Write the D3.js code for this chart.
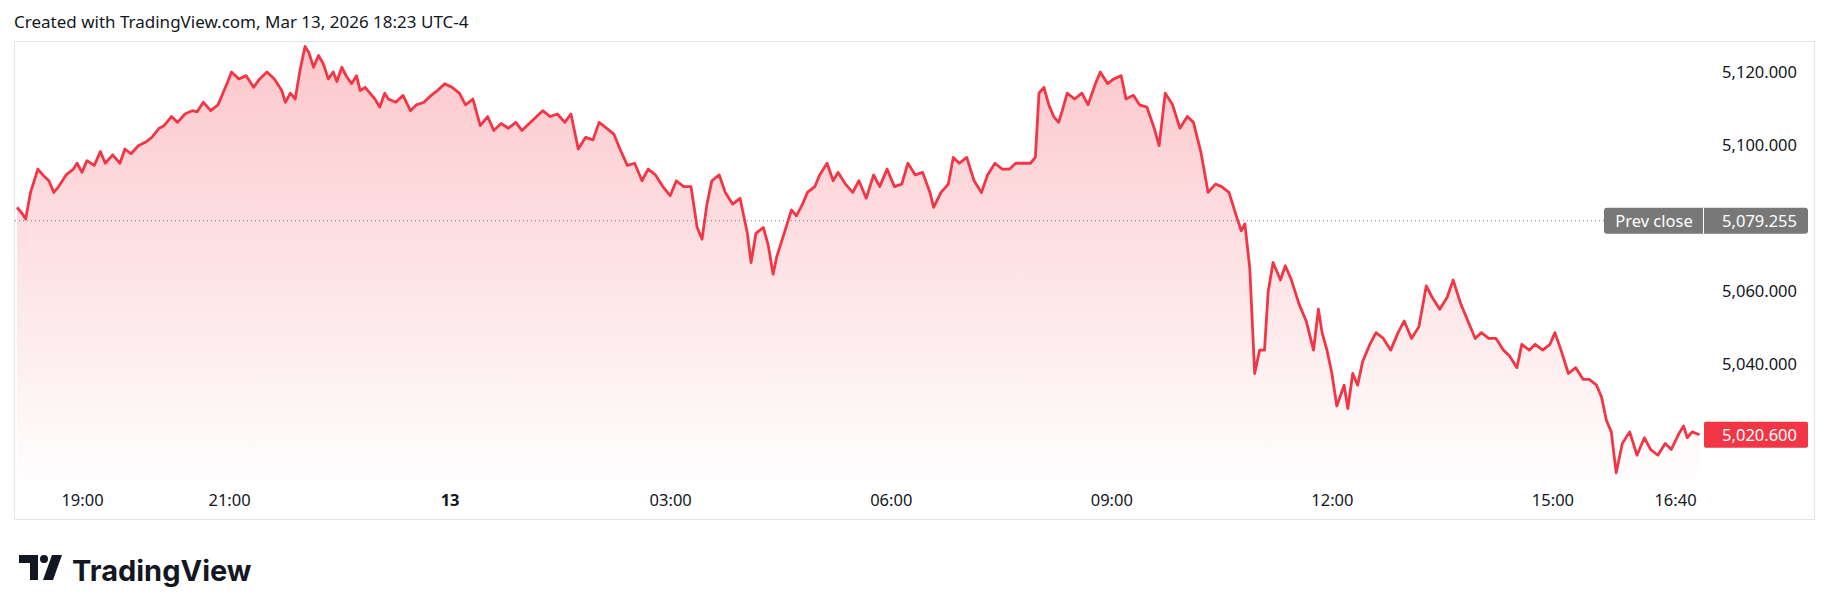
<!DOCTYPE html>
<html>
<head>
<meta charset="utf-8">
<script src="https://cdn.jsdelivr.net/npm/d3@7"></script>
<style>
  body { margin: 0; background: #fff; }
  text { font-family: "Noto Sans", "DejaVu Sans", sans-serif; }
</style>
</head>
<body>
<div id="viz"></div>
<script>
const width = 1830;
const height = 611;
const lineColor = '#f23645';

// minutes since 18:00 (Mar 12) and price
const minutes = [7,11,14,18,24,28,33,37,41,47,53,56,60,64,70,75,79,85,91,95,100,106,112,117,123,127,133,138,144,150,154,159,165,171,175,179,182,188,194,200,205,211,217,223,226,230,234,238,242,245,249,253,257,261,265,268,272,276,280,284,287,291,295,299,303,307,310,316,322,328,333,339,345,350,356,362,368,373,379,385,391,396,402,408,414,419,425,431,436,442,448,454,459,465,471,477,482,488,494,499,505,511,517,522,528,534,540,545,551,557,562,566,570,574,580,585,591,597,603,606,610,616,620,624,627,633,639,643,648,652,658,662,668,673,677,683,689,694,700,706,711,717,723,729,734,740,746,752,755,761,767,771,776,782,788,794,799,805,811,817,822,828,834,838,841,845,849,853,857,860,864,870,876,881,887,891,897,902,908,912,918,923,929,935,939,944,950,956,962,967,973,979,985,990,996,1002,1006,1009,1013,1017,1021,1025,1028,1032,1038,1042,1047,1053,1059,1065,1069,1072,1076,1080,1084,1090,1093,1097,1101,1105,1111,1116,1122,1128,1134,1139,1145,1151,1157,1162,1168,1174,1179,1185,1191,1197,1202,1208,1214,1220,1225,1231,1235,1241,1246,1252,1258,1262,1267,1273,1279,1285,1290,1296,1300,1304,1308,1312,1317,1323,1329,1335,1340,1346,1352,1357,1363,1367,1370,1374,1380];
const prices = [5082.9,5081.3,5079.7,5087.0,5093.4,5091.8,5090.2,5087.0,5088.6,5091.8,5093.4,5095.0,5092.5,5095.7,5094.4,5098.2,5095.0,5097.3,5095.0,5098.9,5097.6,5099.8,5100.8,5102.1,5104.6,5105.3,5107.8,5106.2,5108.5,5109.4,5109.1,5111.7,5109.4,5111.0,5114.2,5117.4,5120.0,5118.1,5119.0,5115.8,5118.1,5120.0,5118.1,5114.9,5111.7,5114.2,5112.6,5120.6,5127.0,5125.4,5121.3,5124.5,5122.2,5118.1,5120.0,5117.4,5121.3,5118.7,5116.8,5119.0,5114.9,5115.8,5114.2,5112.6,5110.4,5114.2,5112.6,5111.7,5113.6,5109.4,5111.0,5111.7,5113.6,5114.9,5116.8,5115.8,5114.2,5111.0,5112.6,5105.3,5107.8,5104.0,5105.9,5104.6,5106.2,5104.0,5105.9,5107.8,5109.4,5107.8,5108.5,5106.2,5108.5,5098.9,5102.1,5101.4,5106.2,5104.6,5103.0,5098.9,5094.4,5095.0,5090.2,5093.4,5091.8,5088.6,5086.1,5090.2,5088.6,5088.6,5077.4,5074.2,5083.8,5090.2,5091.8,5087.0,5083.8,5085.4,5075.8,5067.8,5075.8,5077.4,5072.6,5064.6,5069.4,5075.8,5082.2,5080.6,5083.8,5087.0,5088.6,5091.8,5095.0,5090.2,5092.5,5089.3,5087.0,5090.2,5085.4,5091.8,5088.6,5093.4,5088.6,5089.3,5095.0,5091.8,5092.5,5087.0,5082.9,5087.0,5089.3,5096.6,5095.0,5096.6,5090.2,5087.0,5091.8,5095.0,5093.4,5093.4,5095.0,5095.0,5095.0,5096.6,5114.2,5115.8,5111.0,5107.8,5106.2,5109.4,5114.2,5112.6,5114.2,5111.0,5116.8,5120.0,5116.8,5118.1,5119.0,5112.6,5113.6,5111.0,5110.4,5104.6,5099.8,5114.2,5111.0,5104.6,5107.8,5106.2,5098.2,5087.0,5089.3,5088.6,5087.0,5080.6,5076.5,5078.4,5066.2,5037.4,5043.8,5043.8,5059.8,5067.8,5063.0,5066.9,5063.0,5056.6,5051.8,5043.8,5055.0,5048.6,5043.8,5037.4,5028.5,5034.2,5027.8,5037.4,5034.2,5040.6,5045.4,5048.6,5047.0,5043.8,5048.6,5051.8,5047.0,5050.2,5061.4,5058.2,5055.0,5058.2,5063.0,5056.6,5051.8,5047.0,5048.6,5047.0,5047.0,5043.8,5042.2,5039.0,5045.4,5043.8,5045.4,5043.8,5045.4,5048.6,5043.8,5037.4,5039.0,5035.8,5035.8,5034.2,5031.0,5024.6,5021.4,5010.2,5018.2,5021.4,5015.0,5019.8,5016.6,5015.0,5018.2,5016.6,5020.8,5023.0,5019.8,5021.4,5020.6];

const timeTicks = [60, 180, 360, 540, 720, 900, 1080, 1260, 1360];
const timeLabels = ['19:00', '21:00', '13', '03:00', '06:00', '09:00', '12:00', '15:00', '16:40'];
const priceTicks = [5040, 5060, 5100, 5120];
const prevClose = 5079.255;
const lastPrice = 5020.6;

const data = minutes.map((m, i) => ({ m: m, p: prices[i] }));
const labelFont = 16.5;

const svg = d3.select('#viz').append('svg')
  .attr('width', width).attr('height', height);

svg.append('text').attr('x', 14).attr('y', 28)
  .attr('font-size', 17).attr('fill', '#131722')
  .text('Created with TradingView.com, Mar 13, 2026 18:23 UTC-4');

// chart frame
svg.append('rect').attr('x', 14.5).attr('y', 41.5).attr('width', 1800).attr('height', 478)
  .attr('fill', 'none').attr('stroke', '#e0e3eb');

const xScale = d3.scaleLinear().domain([60, 1360]).range([82, 1675]);
const yScale = d3.scaleLinear().domain([5040, 5120]).range([364, 72]);

const defs = svg.append('defs');
const grad = defs.append('linearGradient').attr('id', 'fillGrad')
  .attr('gradientUnits', 'userSpaceOnUse')
  .attr('x1', 0).attr('y1', 42).attr('x2', 0).attr('y2', 490);
grad.append('stop').attr('offset', '0%').attr('stop-color', lineColor).attr('stop-opacity', 0.28);
grad.append('stop').attr('offset', '100%').attr('stop-color', lineColor).attr('stop-opacity', 0.0);
defs.append('clipPath').attr('id', 'plotClip').append('rect')
  .attr('x', 15).attr('y', 42).attr('width', 1690).attr('height', 448);

const plot = svg.append('g').attr('clip-path', 'url(#plotClip)');

const area = d3.area().x(d => xScale(d.m)).y0(490).y1(d => yScale(d.p));
const line = d3.line().x(d => xScale(d.m)).y(d => yScale(d.p));

plot.append('path').datum(data).attr('d', area).attr('fill', 'url(#fillGrad)');

// prev close dotted line
svg.append('line')
  .attr('x1', 15).attr('x2', 1604)
  .attr('y1', yScale(prevClose)).attr('y2', yScale(prevClose))
  .attr('stroke', '#787b86').attr('stroke-width', 1).attr('stroke-dasharray', '1,3');

plot.append('path').datum(data).attr('d', line)
  .attr('fill', 'none').attr('stroke', lineColor).attr('stroke-width', 2.8)
  .attr('stroke-linejoin', 'round');

// price axis labels
const yAxis = d3.axisRight(yScale).tickValues(priceTicks)
  .tickFormat(d3.format(',.3f')).tickSize(0);
const yg = svg.append('g').attr('transform', 'translate(1797,0)').call(yAxis);
yg.select('.domain').remove();
yg.selectAll('text').attr('text-anchor', 'end').attr('x', 0)
  .attr('font-size', labelFont).attr('fill', '#131722')
  .style('font-family', '"Noto Sans", sans-serif');

// prev close badge
const pcY = yScale(prevClose);
svg.append('rect').attr('x', 1604).attr('y', pcY - 13).attr('width', 204).attr('height', 26)
  .attr('rx', 3).attr('fill', '#787878');
svg.append('line').attr('x1', 1703.5).attr('x2', 1703.5).attr('y1', pcY - 13).attr('y2', pcY + 13)
  .attr('stroke', '#fff').attr('stroke-width', 1);
svg.append('text').attr('x', 1654).attr('y', pcY + 6).attr('text-anchor', 'middle')
  .attr('font-size', labelFont).attr('fill', '#fff').text('Prev close');
svg.append('text').attr('x', 1797).attr('y', pcY + 6).attr('text-anchor', 'end')
  .attr('font-size', labelFont).attr('fill', '#fff').text(d3.format(',.3f')(prevClose));

// last price badge
const lpY = yScale(lastPrice);
svg.append('rect').attr('x', 1704).attr('y', lpY - 13).attr('width', 104).attr('height', 26)
  .attr('rx', 2).attr('fill', lineColor);
svg.append('text').attr('x', 1797).attr('y', lpY + 6).attr('text-anchor', 'end')
  .attr('font-size', labelFont).attr('fill', '#fff').text(d3.format(',.3f')(lastPrice));

// time axis
const xAxis = d3.axisBottom(xScale).tickValues(timeTicks)
  .tickFormat((d, i) => timeLabels[i]).tickSize(0);
const xg = svg.append('g').attr('transform', 'translate(0,491)').call(xAxis);
xg.select('.domain').remove();
xg.selectAll('text').attr('font-size', labelFont).attr('fill', '#131722')
  .style('font-family', '"Noto Sans", sans-serif')
  .attr('font-weight', (d, i) => timeLabels[i] === '13' ? 'bold' : 'normal');

// logo
const logo = svg.append('g').attr('fill', '#131722');
logo.append('path').attr('d', 'M19,555 H38 V580 H30 V563 H19 Z');
logo.append('circle').attr('cx', 44).attr('cy', 559).attr('r', 4);
logo.append('path').attr('d', 'M52,555 H62 L53,580 H43 Z');
svg.append('text').attr('x', 72).attr('y', 581).attr('font-size', 29)
  .attr('font-weight', 'bold').attr('fill', '#131722')
  .style('font-family', '"Inter", "Noto Sans", sans-serif')
  .text('TradingView');
</script>
</body>
</html>
